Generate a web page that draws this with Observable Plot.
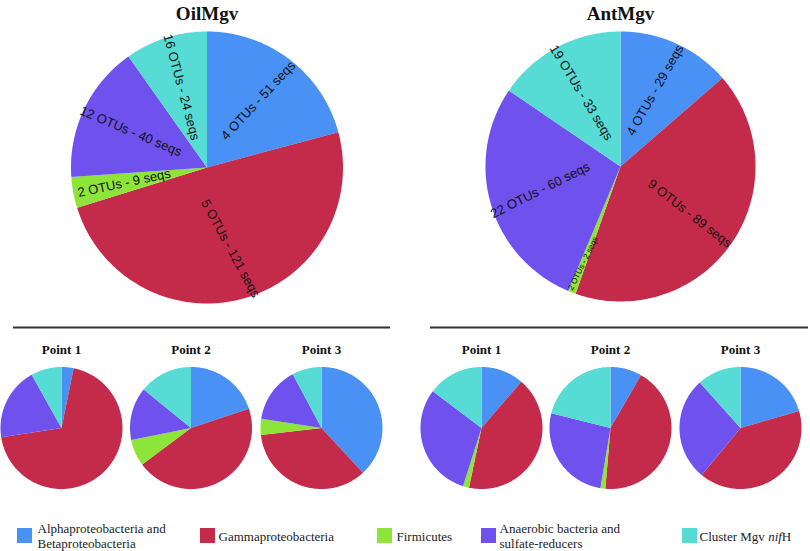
<!DOCTYPE html>
<html>
<head>
<meta charset="utf-8">
<script src="https://cdn.jsdelivr.net/npm/d3@7"></script>
<script src="https://cdn.jsdelivr.net/npm/@observablehq/plot@0.6"></script>
<style>
  body { margin: 0; background: #ffffff; }
  #chart svg { display: block; }
</style>
</head>
<body>
<div id="chart"></div>
<script>
// ---------------- DATA ----------------
const categories = ["alpha", "gamma", "firmicutes", "anaerobic", "cluster"];
const legendLabels = [
  "Alphaproteobacteria and\nBetaproteobacteria",
  "Gammaproteobacteria",
  "Firmicutes",
  "Anaerobic bacteria and\nsulfate-reducers",
  "Cluster Mgv nifH"
];
const colors = ["#4a91f6", "#c42b4b", "#8ee53a", "#6f51ee", "#57dbd5"];

const bigTitles = ["OilMgv", "AntMgv"];
const oilSeqs = [51, 121, 9, 40, 24];
const oilOTUs = [4, 5, 2, 12, 16];
const antSeqs = [29, 89, 2, 60, 33];
const antOTUs = [4, 9, 2, 22, 19];

const pointTitles = ["Point 1", "Point 2", "Point 3"];
// percentages (order: categories)
const oilPoint1 = [3.3, 71.7, 0, 19.9, 8.4];
const oilPoint2 = [19.9, 44.8, 7.1, 14.0, 14.1];
const oilPoint3 = [38.1, 35.1, 4.2, 14.8, 7.8];
const antPoint1 = [11.3, 42.0, 1.6, 30.4, 14.7];
const antPoint2 = [8.3, 43.0, 1.3, 26.2, 21.1];
const antPoint3 = [20.5, 40.4, 0, 27.4, 11.6];

// ---------------- LAYOUT ----------------
const W = 810, H = 551;
const bigLayout = [{cx: 206.5, cy: 167, r: 136}, {cx: 620, cy: 166, r: 135}];
// label text rotation (degrees) as drawn in the original
const oilLabelRotate = [-47, 61.5, -12, 23, 75];
const antLabelRotate = [-60.5, 38, -64, -26.6, 58.6];
const titleY = 19;
const smallLayout = [[61, 190.5, 321], [481, 610, 740]];
const smallCy = 427.5, smallR = 61;
const pointTitleY = 353;
const ruleY = 327;
const ruleSpans = [[13, 390], [430, 808]];
const swatchX = [17, 200, 377, 481, 682];
const legendTextX = [37, 218, 396, 499, 699];
const swatchY = [528, 543];
const legendTextY = 535.5;

// ---------------- BUILD ----------------
const pie = d3.pie().sort(null);
const wedges = [];
const labels = [];
let wid = 0;

function addPie(values, cx, cy, r, labelTexts, rotations) {
  const arcs = pie(values);
  const total = d3.sum(values);
  arcs.forEach((a, i) => {
    if (a.value <= 0) return;
    const id = wid++;
    const steps = Math.max(2, Math.ceil((a.endAngle - a.startAngle) / (Math.PI / 180)));
    wedges.push({id, cat: categories[i], x: cx, y: cy});
    for (let s = 0; s <= steps; s++) {
      const ang = a.startAngle + (a.endAngle - a.startAngle) * s / steps;
      wedges.push({id, cat: categories[i], x: cx + r * Math.sin(ang), y: cy - r * Math.cos(ang)});
    }
    wedges.push({id, cat: categories[i], x: cx, y: cy});
    if (labelTexts) {
      const mid = (a.startAngle + a.endAngle) / 2;
      const deg = mid * 180 / Math.PI;
      const frac = a.value / total;
      const tiny = frac < 0.02;
      const rho = r * (tiny ? 0.77 : 0.62);
      labels.push({
        x: cx + rho * Math.sin(mid),
        y: cy - rho * Math.cos(mid),
        text: labelTexts[i],
        rotate: rotations ? rotations[i] : (deg <= 180 ? deg - 90 : deg - 270),
        size: tiny ? 8 : 13
      });
    }
  });
}

addPie(oilSeqs, bigLayout[0].cx, bigLayout[0].cy, bigLayout[0].r,
  oilSeqs.map((s, i) => `${oilOTUs[i]} OTUs - ${s} seqs`), oilLabelRotate);
addPie(antSeqs, bigLayout[1].cx, bigLayout[1].cy, bigLayout[1].r,
  antSeqs.map((s, i) => `${antOTUs[i]} OTUs - ${s} seqs`), antLabelRotate);

const smallSets = [[oilPoint1, oilPoint2, oilPoint3], [antPoint1, antPoint2, antPoint3]];
smallSets.forEach((set, g) => set.forEach((vals, k) => addPie(vals, smallLayout[g][k], smallCy, smallR, null, null)));

const bigTitleData = bigTitles.map((t, i) => ({text: t, x: bigLayout[i].cx, y: titleY}));
const pointTitleData = [];
smallLayout.forEach(row => row.forEach((x, k) => pointTitleData.push({text: pointTitles[k], x, y: pointTitleY})));
const ruleData = ruleSpans.map(([a, b]) => ({x1: a, x2: b, y: ruleY}));
const legendData = categories.map((c, i) => ({
  cat: c, label: legendLabels[i],
  x1: swatchX[i], x2: swatchX[i] + 15, y1: swatchY[0], y2: swatchY[1],
  tx: legendTextX[i], ty: legendTextY
}));

const serif = "'Liberation Serif', 'Times New Roman', serif";
const sans = "'Liberation Sans', Arial, Helvetica, sans-serif";

const chart = Plot.plot({
  width: W,
  height: H,
  margin: 0,
  x: {domain: [0, W], range: [0, W], axis: null},
  y: {domain: [0, H], range: [0, H], axis: null},
  color: {type: "ordinal", domain: categories, range: colors},
  style: {background: "#ffffff"},
  marks: [
    Plot.line(wedges, {x: "x", y: "y", z: "id", fill: "cat", stroke: "none", curve: "linear"}),
    Plot.text(labels, {x: "x", y: "y", text: "text", rotate: "rotate", fontSize: "size",
      fontFamily: sans, fill: "#111", textAnchor: "middle", lineAnchor: "middle"}),
    Plot.text(bigTitleData, {x: "x", y: "y", text: "text", fontFamily: serif, fontWeight: "bold",
      fontSize: 19, fill: "#111", textAnchor: "middle", lineAnchor: "bottom"}),
    Plot.text(pointTitleData, {x: "x", y: "y", text: "text", fontFamily: serif, fontWeight: "bold",
      fontSize: 13, fill: "#111", textAnchor: "middle", lineAnchor: "bottom"}),
    Plot.ruleY(ruleData, {y: "y", x1: "x1", x2: "x2", stroke: "#333", strokeWidth: 2}),
    Plot.rect(legendData, {x1: "x1", x2: "x2", y1: "y1", y2: "y2", fill: "cat"}),
    Plot.text(legendData, {x: "tx", y: "ty", text: "label", fontFamily: serif, fontSize: 13,
      fill: "#222", textAnchor: "start", lineAnchor: "middle", lineHeight: 1.08})
  ]
});

// italic "nif" in "Cluster Mgv nifH"
chart.querySelectorAll("text").forEach(t => {
  if (t.textContent === "Cluster Mgv nifH") {
    const ns = "http://www.w3.org/2000/svg";
    while (t.firstChild) t.removeChild(t.firstChild);
    t.appendChild(document.createTextNode("Cluster Mgv "));
    const it = document.createElementNS(ns, "tspan");
    it.setAttribute("font-style", "italic");
    it.textContent = "nif";
    t.appendChild(it);
    t.appendChild(document.createTextNode("H"));
  }
});

document.getElementById("chart").appendChild(chart);
</script>
</body>
</html>
